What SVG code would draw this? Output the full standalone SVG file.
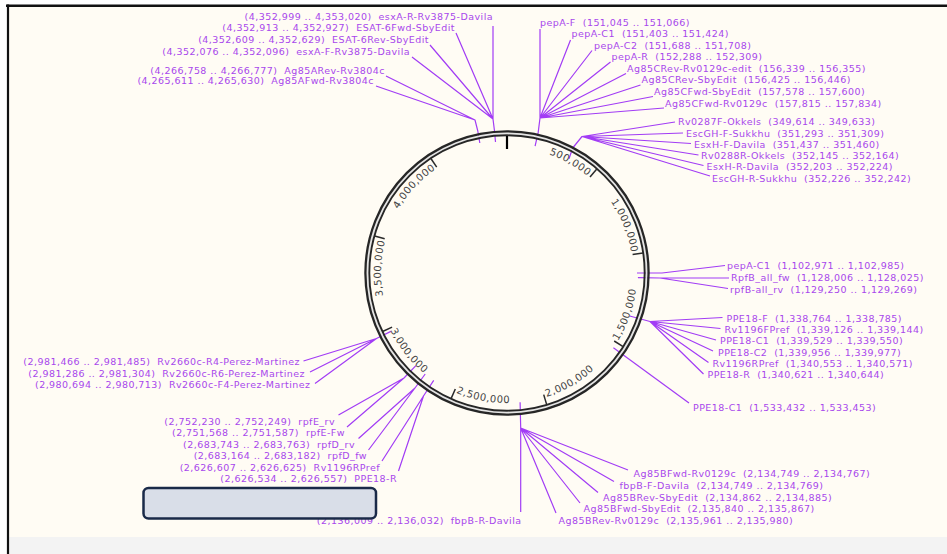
<svg xmlns="http://www.w3.org/2000/svg" width="947" height="554" viewBox="0 0 947 554" xml:space="preserve">
<style>
.lbl{font-family:"DejaVu Sans",Verdana,sans-serif;font-size:9.5px;letter-spacing:0.45px;fill:#a847ec;white-space:pre}
.end{text-anchor:end}
.conn{stroke:#a23cf5;stroke-width:1.2;fill:none;stroke-linejoin:round}
.tl{font-family:"DejaVu Sans",Verdana,sans-serif;font-size:10px;letter-spacing:0.5px;fill:#444}
.tk{stroke:#2a2a2a;stroke-width:1.5}
</style>
<defs>
<path id="cw" d="M507,147 A126,126 0 1 1 507,399 A126,126 0 1 1 507,147"/>
<path id="ccw" d="M507,143 A130,130 0 1 0 507,403 A130,130 0 1 0 507,143"/>
</defs>
<rect x="0" y="0" width="947" height="554" fill="#ffffff"/>
<rect x="8" y="5" width="939" height="532" fill="#fffcf4"/>
<rect x="8" y="537" width="939" height="17" fill="#f3f3f3"/>
<line x1="6" y1="5.7" x2="947" y2="5.7" stroke="#111" stroke-width="2.6"/>
<line x1="8" y1="4.5" x2="8" y2="554" stroke="#111" stroke-width="2.2"/>

<g id="connectors" class="conn">
<path d="M535.1,146.1 L538.2,132.4 L540,118 L540,29 M540,118 L570.5,40 M540,118 L592,50.5 M540,118 L610.5,62 M540,118 L626,73.5 M540,118 L640.5,85 M540,118 L653,96.5 M540,118 L664,108"/>
<path d="M569,158.8 L572.7,148 L582,136.5 L675,122 M582,136.5 L683,133 M582,136.5 L691,143.5 M582,136.5 L698.5,155 M582,136.5 L703.5,165.5 M582,136.5 L710,176"/>
<path d="M495.5,142 L494.5,131 L493,119 L493,26 M493,119 L456,33 M493,119 L430,45 M493,119 L412,57"/>
<path d="M479.8,143 L477.8,131 L475,120 L386,76 M475,120 L376,86"/>
<path d="M637,273 L662,273 L725,265.5 M637.9,277.7 L660,278 L729,278 M660,278 L728,288.5"/>
<path d="M629.7,316 L650,321.5 L722.5,317.5 M650,321.5 L720.5,328.5 M650,321.5 L716,340 M650,321.5 L713,351 M650,321.5 L708.5,362.5 M650,321.5 L703.5,374"/>
<path d="M613.4,347.8 L689,403"/>
<path d="M520.1,402.3 L520.7,428 L520.7,512 M520.7,428 L628,470 M520.7,428 L614,481.5 M520.7,428 L598,492.5 M520.7,428 L580,503 M520.7,428 L556,513"/>
<path d="M415.9,365.7 L404,378 L338.5,415 M404,378 L347,427"/>
<path d="M425.2,374 L415,388 L358.5,438.5 M415,388 L368.5,450"/>
<path d="M433.7,380.4 L423.5,396 L382,461 M423.5,396 L398.5,471"/>
<path d="M390.9,331.4 L376.5,338.5 L303.5,361 M376.5,338.5 L310,372 M376.5,338.5 L315,383.5"/>
</g>

<g id="ring">
<circle cx="507" cy="273" r="139.6" fill="none" stroke="#e4e4e4" stroke-width="2"/>
<circle cx="507" cy="273" r="141.6" fill="none" stroke="#262626" stroke-width="2.3"/>
<circle cx="507" cy="273" r="137.7" fill="none" stroke="#262626" stroke-width="1.9"/>
<line x1="507" y1="136" x2="507" y2="149" stroke="#000" stroke-width="2.2"/>
<line class="tk" x1="590" y1="176.9" x2="596.8" y2="168.9"/>
<line class="tk" x1="632.6" y1="254.4" x2="643" y2="252.9"/>
<line class="tk" x1="614.2" y1="341" x2="623.1" y2="346.7"/>
<line class="tk" x1="543.7" y1="394.6" x2="546.7" y2="404.6"/>
<line class="tk" x1="455.3" y1="389" x2="451.1" y2="398.6"/>
<line class="tk" x1="392.1" y1="327.1" x2="382.6" y2="331.5"/>
<line class="tk" x1="384.7" y1="238.8" x2="374.6" y2="236"/>
<line class="tk" x1="436.7" y1="167.2" x2="430.9" y2="158.5"/>
<text class="tl" text-anchor="end"><textPath href="#cw" startOffset="87.7">500,000</textPath></text>
<text class="tl" text-anchor="end"><textPath href="#cw" startOffset="177.4">1,000,000</textPath></text>
<text class="tl" text-anchor="end"><textPath href="#cw" startOffset="626">3,500,000</textPath></text>
<text class="tl" text-anchor="end"><textPath href="#cw" startOffset="715.8">4,000,000</textPath></text>
<text class="tl"><textPath href="#ccw" startOffset="541">1,500,000</textPath></text>
<text class="tl"><textPath href="#ccw" startOffset="448.5">2,000,000</textPath></text>
<text class="tl"><textPath href="#ccw" startOffset="356">2,500,000</textPath></text>
<text class="tl"><textPath href="#ccw" startOffset="263.4">3,000,000</textPath></text>
</g>

<g id="n-pepA-F"><text class="lbl" x="540" y="26">pepA-F  (151,045 .. 151,066)</text></g>
<g id="n-pepA-C1"><text class="lbl" x="571.5" y="37">pepA-C1  (151,403 .. 151,424)</text></g>
<g id="n-pepA-C2"><text class="lbl" x="594" y="48.5">pepA-C2  (151,688 .. 151,708)</text></g>
<g id="n-pepA-R"><text class="lbl" x="611.5" y="60">pepA-R  (152,288 .. 152,309)</text></g>
<g id="n-Ag85CRev-edit"><text class="lbl" x="627" y="71.5">Ag85CRev-Rv0129c-edit  (156,339 .. 156,355)</text></g>
<g id="n-Ag85CRev-Sby"><text class="lbl" x="641.5" y="83">Ag85CRev-SbyEdit  (156,425 .. 156,446)</text></g>
<g id="n-Ag85CFwd-Sby"><text class="lbl" x="654" y="95">Ag85CFwd-SbyEdit  (157,578 .. 157,600)</text></g>
<g id="n-Ag85CFwd-Rv"><text class="lbl" x="665" y="106.5">Ag85CFwd-Rv0129c  (157,815 .. 157,834)</text></g>

<g id="n-Rv0287F"><text class="lbl" x="678" y="125">Rv0287F-Okkels  (349,614 .. 349,633)</text></g>
<g id="n-EscGH-F"><text class="lbl" x="686" y="136.5">EscGH-F-Sukkhu  (351,293 .. 351,309)</text></g>
<g id="n-EsxH-F"><text class="lbl" x="694" y="147.5">EsxH-F-Davila  (351,437 .. 351,460)</text></g>
<g id="n-Rv0288R"><text class="lbl" x="701" y="158.5">Rv0288R-Okkels  (352,145 .. 352,164)</text></g>
<g id="n-EsxH-R"><text class="lbl" x="706.5" y="170">EsxH-R-Davila  (352,203 .. 352,224)</text></g>
<g id="n-EscGH-R"><text class="lbl" x="712" y="181.5">EscGH-R-Sukkhu  (352,226 .. 352,242)</text></g>

<g id="n-esxA-R"><text class="lbl end" x="493" y="19.5">(4,352,999 .. 4,353,020)  esxA-R-Rv3875-Davila</text></g>
<g id="n-ESAT-6Fwd"><text class="lbl end" x="455" y="31">(4,352,913 .. 4,352,927)  ESAT-6Fwd-SbyEdit</text></g>
<g id="n-ESAT-6Rev"><text class="lbl end" x="429" y="43">(4,352,609 .. 4,352,629)  ESAT-6Rev-SbyEdit</text></g>
<g id="n-esxA-F"><text class="lbl end" x="410" y="54.5">(4,352,076 .. 4,352,096)  esxA-F-Rv3875-Davila</text></g>
<g id="n-Ag85ARev"><text class="lbl end" x="385" y="73.5">(4,266,758 .. 4,266,777)  Ag85ARev-Rv3804c</text></g>
<g id="n-Ag85AFwd"><text class="lbl end" x="374" y="84">(4,265,611 .. 4,265,630)  Ag85AFwd-Rv3804c</text></g>

<g id="n-pepA-C1-b"><text class="lbl" x="727" y="268.5">pepA-C1  (1,102,971 .. 1,102,985)</text></g>
<g id="n-RpfB-fw"><text class="lbl" x="731" y="281">RpfB_all_fw  (1,128,006 .. 1,128,025)</text></g>
<g id="n-rpfB-rv"><text class="lbl" x="730" y="292.5">rpfB-all_rv  (1,129,250 .. 1,129,269)</text></g>

<g id="n-PPE18-F"><text class="lbl" x="726.5" y="321.5">PPE18-F  (1,338,764 .. 1,338,785)</text></g>
<g id="n-Rv1196FPref"><text class="lbl" x="724.5" y="332.5">Rv1196FPref  (1,339,126 .. 1,339,144)</text></g>
<g id="n-PPE18-C1"><text class="lbl" x="720" y="344">PPE18-C1  (1,339,529 .. 1,339,550)</text></g>
<g id="n-PPE18-C2"><text class="lbl" x="718" y="355.5">PPE18-C2  (1,339,956 .. 1,339,977)</text></g>
<g id="n-Rv1196RPref"><text class="lbl" x="712.5" y="366.5">Rv1196RPref  (1,340,553 .. 1,340,571)</text></g>
<g id="n-PPE18-R"><text class="lbl" x="707.5" y="378">PPE18-R  (1,340,621 .. 1,340,644)</text></g>
<g id="n-PPE18-C1-b"><text class="lbl" x="693" y="411">PPE18-C1  (1,533,432 .. 1,533,453)</text></g>

<g id="n-Ag85BFwd-Rv"><text class="lbl" x="633.5" y="477">Ag85BFwd-Rv0129c  (2,134,749 .. 2,134,767)</text></g>
<g id="n-fbpB-F"><text class="lbl" x="619.5" y="488.5">fbpB-F-Davila  (2,134,749 .. 2,134,769)</text></g>
<g id="n-Ag85BRev-Sby"><text class="lbl" x="603" y="500.5">Ag85BRev-SbyEdit  (2,134,862 .. 2,134,885)</text></g>
<g id="n-Ag85BFwd-Sby"><text class="lbl" x="583.5" y="512">Ag85BFwd-SbyEdit  (2,135,840 .. 2,135,867)</text></g>
<g id="n-Ag85BRev-Rv"><text class="lbl" x="558.5" y="523.5">Ag85BRev-Rv0129c  (2,135,961 .. 2,135,980)</text></g>
<g id="n-fbpB-R"><text class="lbl end" x="521.5" y="523.5">(2,136,009 .. 2,136,032)  fbpB-R-Davila</text></g>

<g id="n-rpfE-rv"><text class="lbl end" x="335" y="425">(2,752,230 .. 2,752,249)  rpfE_rv</text></g>
<g id="n-rpfE-Fw"><text class="lbl end" x="345" y="436">(2,751,568 .. 2,751,587)  rpfE-Fw</text></g>
<g id="n-rpfD-rv"><text class="lbl end" x="355" y="447.5">(2,683,743 .. 2,683,763)  rpfD_rv</text></g>
<g id="n-rpfD-fw"><text class="lbl end" x="367" y="459">(2,683,164 .. 2,683,182)  rpfD_fw</text></g>
<g id="n-Rv1196RPref-b"><text class="lbl end" x="380" y="470.5">(2,626,607 .. 2,626,625)  Rv1196RPref</text></g>
<g id="n-PPE18-R-b"><text class="lbl end" x="397" y="482">(2,626,534 .. 2,626,557)  PPE18-R</text></g>

<g id="n-Rv2660c-R4"><text class="lbl end" x="300" y="365">(2,981,466 .. 2,981,485)  Rv2660c-R4-Perez-Martinez</text></g>
<g id="n-Rv2660c-R6"><text class="lbl end" x="305" y="376.5">(2,981,286 .. 2,981,304)  Rv2660c-R6-Perez-Martinez</text></g>
<g id="n-Rv2660c-F4"><text class="lbl end" x="310.5" y="388">(2,980,694 .. 2,980,713)  Rv2660c-F4-Perez-Martinez</text></g>

<g id="overlay-box"><rect x="143.5" y="488" width="232.5" height="30.5" rx="5" fill="#d9dee8" stroke="#1a2a48" stroke-width="2.5"/></g>
</svg>
